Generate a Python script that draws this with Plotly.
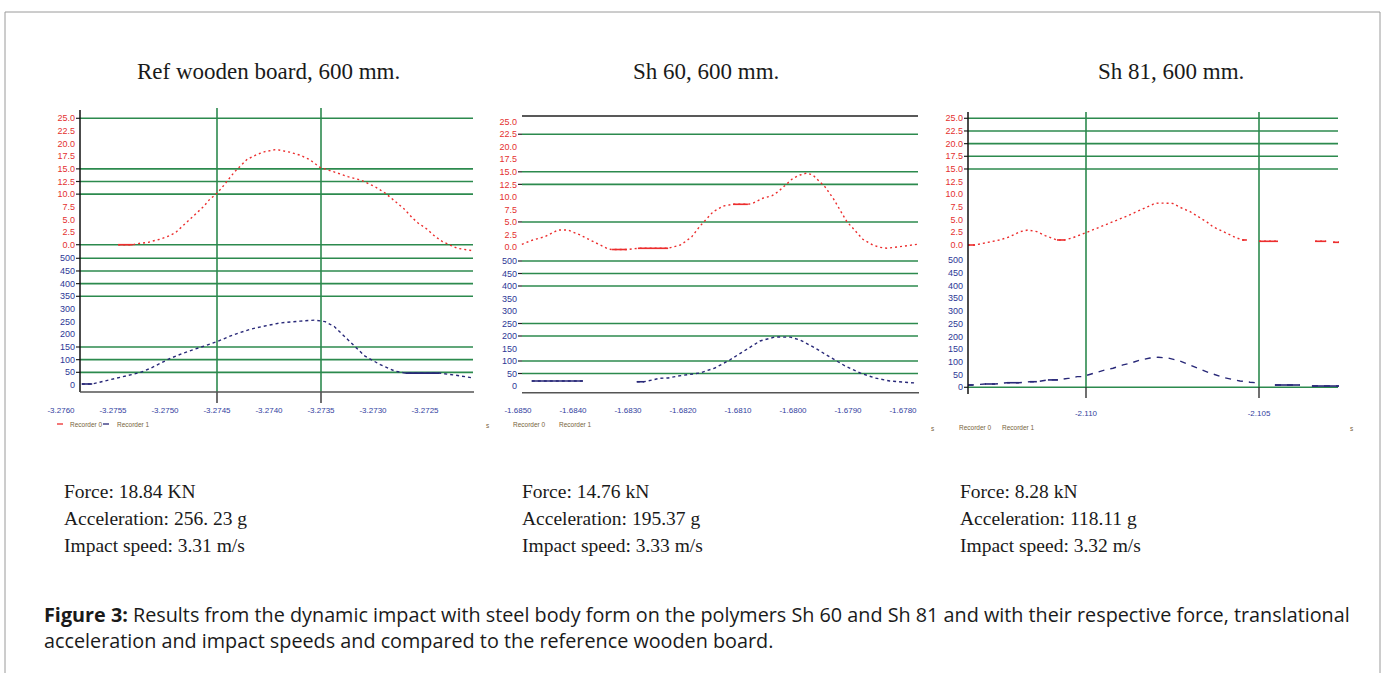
import plotly.graph_objects as go

W, H = 1385, 673

# ---------------- data ----------------
titles = ["Ref wooden board, 600 mm.", "Sh 60, 600 mm.", "Sh 81, 600 mm."]
info = [
    ["Force: 18.84 KN", "Acceleration: 256. 23 g", "Impact speed: 3.31 m/s"],
    ["Force: 14.76 kN", "Acceleration: 195.37 g", "Impact speed: 3.33 m/s"],
    ["Force: 8.28 kN", "Acceleration: 118.11 g", "Impact speed: 3.32 m/s"],
]
series_names = ["Recorder 0", "Recorder 1"]

force_ticks = [0, 2.5, 5, 7.5, 10, 12.5, 15, 17.5, 20, 22.5, 25]
force_ticktext = ["0.0", "2.5", "5.0", "7.5", "10.0", "12.5", "15.0", "17.5", "20.0", "22.5", "25.0"]
accel_ticks = [0, 50, 100, 150, 200, 250, 300, 350, 400, 450, 500]
accel_ticktext = ["0", "50", "100", "150", "200", "250", "300", "350", "400", "450", "500"]

# panel 1: Ref wooden board
x1_ticks = [-3.2760, -3.2755, -3.2750, -3.2745, -3.2740, -3.2735, -3.2730, -3.2725]
x1_ticktext = ["-3.2760", "-3.2755", "-3.2750", "-3.2745", "-3.2740", "-3.2735", "-3.2730", "-3.2725"]
t1_force = [-3.27545, -3.27531, -3.27524, -3.27516, -3.27512, -3.27505, -3.27498, -3.27490, -3.27483,
            -3.27476, -3.27463, -3.27457, -3.27450, -3.27444, -3.27433, -3.27421, -3.27411, -3.27404,
            -3.27393, -3.27380, -3.27370, -3.27361, -3.27351, -3.27338, -3.27324, -3.27312, -3.27305,
            -3.27298, -3.27288, -3.27284, -3.27278, -3.27270, -3.27262, -3.27257, -3.27248, -3.27240,
            -3.27233, -3.27219, -3.27204]
force1 = [0.0, 0.0, 0.28, 0.47, 0.73, 1.07, 1.58, 2.37, 3.7,
          5.08, 7.52, 8.98, 10.17, 11.6, 14.44, 16.89, 17.9, 18.4,
          18.84, 18.3, 17.7, 16.85, 15.3, 14.44, 13.45, 12.8, 12.14,
          11.47, 10.17, 9.5, 8.5, 7.06, 5.28, 4.35, 3.05, 1.58,
          0.59, -0.71, -1.19]
t1_accel = [-3.27580, -3.27570, -3.27565, -3.27558, -3.27550, -3.27541, -3.27534, -3.27524, -3.27514,
            -3.27505, -3.27495, -3.27483, -3.27469, -3.27457, -3.27450, -3.27435, -3.27418, -3.27404,
            -3.27389, -3.27370, -3.27356, -3.27346, -3.27337, -3.27327, -3.27317, -3.27308, -3.27293,
            -3.27279, -3.27269, -3.27236, -3.27221, -3.27204]
accel1 = [4, 4, 9, 16, 26, 33, 39, 49, 66,
          86, 105, 125, 145, 162, 171, 197, 220, 233,
          245, 252, 256.23, 250, 230, 190, 150, 115, 80,
          55, 47, 47, 39, 28]

# panel 2: Sh 60
x2_ticks = [-1.6850, -1.6840, -1.6830, -1.6820, -1.6810, -1.6800, -1.6790, -1.6780]
x2_ticktext = ["-1.6850", "-1.6840", "-1.6830", "-1.6820", "-1.6810", "-1.6800", "-1.6790", "-1.6780"]
t2_force = [-1.68493, -1.68473, -1.68451, -1.68427, -1.68409, -1.68387, -1.68369, -1.68351, -1.68336,
            -1.68329, -1.68302, -1.68282, -1.68227, -1.68211, -1.68205, -1.68196, -1.68184, -1.68169,
            -1.68156, -1.68145, -1.68127, -1.68109, -1.68082, -1.68073, -1.68055, -1.68038, -1.68027,
            -1.68011, -1.68000, -1.67987, -1.67975, -1.67964, -1.67951, -1.67942, -1.67927, -1.67915,
            -1.67902, -1.67891, -1.67873, -1.67855, -1.67842, -1.67829, -1.67805, -1.67787, -1.67773]
force2 = [0.54, 1.4, 2.06, 3.39, 3.39, 2.39, 1.4, 0.4, -0.4,
          -0.5, -0.5, -0.26, -0.26, 0.2, 0.4, 1.06, 2.06, 4.19,
          5.73, 7.05, 8.18, 8.52, 8.52, 8.72, 9.72, 10.24, 11.04,
          12.71, 13.71, 14.37, 14.76, 14.37, 13.03, 12.03, 9.72, 7.38,
          5.05, 3.73, 1.54, 0.4, -0.06, -0.26, 0.06, 0.26, 0.54]
t2_accel = [-1.68475, -1.68382, None, -1.68284, -1.68271, -1.68256, -1.68242, -1.68227, -1.68209,
            -1.68169, -1.68142, -1.68115, -1.68087, -1.68060, -1.68033, -1.68005, -1.67987, -1.67960,
            -1.67933, -1.67905, -1.67878, -1.67851, -1.67824, -1.67796, -1.67778]
accel2 = [20, 20, None, 17, 17, 24, 31, 32, 40,
          52, 72, 104, 144, 180, 196, 195.37, 184, 152,
          116, 80, 52, 32, 20, 14, 12]

# panel 3: Sh 81
x3_ticks = [-2.110, -2.105]
x3_ticktext = ["-2.110", "-2.105"]
t3_force = [-2.11341, -2.11321, -2.11298, -2.11272, -2.11249, -2.11220, -2.11191, -2.11168, -2.11142,
            -2.11118, -2.11084, -2.11061, -2.11038, -2.11000, -2.10960, -2.10922, -2.10882, -2.10844,
            -2.10815, -2.10801, -2.10786, -2.10757, -2.10749, -2.10728, -2.10699, -2.10676, -2.10650,
            -2.10633, -2.10604, -2.10569, -2.10549, -2.10535, None, -2.10500, -2.10445, None,
            -2.10338, -2.10306, None, -2.10286, -2.10266]
force3 = [0, 0, 0.33, 0.65, 0.99, 1.64, 2.63, 2.96, 2.63,
          1.84, 0.99, 0.99, 1.44, 2.43, 3.61, 4.6, 5.7, 6.9,
          7.7, 8.2, 8.28, 8.28, 8.2, 7.44, 6.57, 5.6, 4.5,
          3.6, 2.63, 1.52, 0.99, 0.99, None, 0.73, 0.73, None,
          0.73, 0.73, None, 0.53, 0.53]
t3_accel = [-2.11341, -2.11327, -2.11292, -2.11263, -2.11228, -2.11194, -2.11162, -2.11142, -2.11110,
            -2.11081, -2.11052, -2.11040, -2.11026, -2.11012, -2.11000, -2.10988, -2.10968, -2.10945,
            -2.10922, -2.10893, -2.10873, -2.10844, -2.10815, -2.10792, -2.10763, -2.10728, -2.10685,
            -2.10642, -2.10598, -2.10555, -2.10526, -2.10503, None, -2.10454, -2.10382, None,
            -2.10347, -2.10269]
accel3 = [9, 9, 13, 13, 18, 18, 22, 22, 29,
          29, 35, 35, 42, 42, 46, 52, 59, 68,
          75, 88, 94, 107, 115, 118.11, 115, 103, 80,
          56, 37, 25, 20, 17, None, 9, 9, None,
          5, 5]

# reference (grid) levels drawn in green
force_levels = [[25, 15, 12.5, 10, 0], [22.5, 15, 12.5, 5], [25, 22.5, 20, 17.5, 15]]
accel_levels = [[500, 450, 400, 350, 150, 100, 50], [500, 450, 400, 250, 200, 100, 50], [0]]
cursor_times = [[-3.2745, -3.2735], [], [-2.110, -2.105]]

caption_bold = "Figure 3:"
caption_1 = " Results from the dynamic impact with steel body form on the polymers Sh 60 and Sh 81 and with their respective force, translational"
caption_2 = "acceleration and impact speeds and compared to the reference wooden board."

# ---------------- layout calibration (pixels) ----------------
def fx(px):
    return px / W

def fy(py):
    return 1 - py / H

PANELS = [
    dict(xdom=(56, 473), tref=-3.2745, pxref=217, spx=104000, axis_px=80, right_px=473,
         f0=244.7, fk=5.056, a0=385.0, ak=0.2534, title_x=268, info_x=62, stand=12,
         leg=(68, 115, 424), unit=(488, 425), samples=True),
    dict(xdom=(500, 919), tref=-1.6850, pxref=518, spx=55000, axis_px=522, right_px=918,
         f0=247.0, fk=5.012, a0=386.0, ak=0.250, title_x=706, info_x=520, stand=12,
         leg=(511, 557, 424), unit=(933, 428), samples=False),
    dict(xdom=(945, 1339), tref=-2.110, pxref=1086, spx=34600, axis_px=968, right_px=1338,
         f0=245.0, fk=5.068, a0=387.3, ak=0.2546, title_x=1171, info_x=958, stand=15,
         leg=(957, 1000, 427), unit=(1352, 428), samples=False),
]
YT, YB = 106, 392

RED = "rgb(236,45,45)"
NAVY = "rgb(40,40,120)"
GREEN = "rgb(44,138,78)"
FORCE_LBL = "rgb(228,48,48)"
ACCEL_LBL = "rgb(45,55,150)"
XLBL = "rgb(50,65,160)"
LEGC = "rgb(120,100,60)"

data = [
    (t1_force, force1, t1_accel, accel1, x1_ticks, x1_ticktext),
    (t2_force, force2, t2_accel, accel2, x2_ticks, x2_ticktext),
    (t3_force, force3, t3_accel, accel3, x3_ticks, x3_ticktext),
]
# index ranges of flat stretches that the recorder drew as solid strokes
solid_force = [[(0, 1)], [(9, 10), (11, 12), (21, 22)], [(0, 1), (10, 11), (30, 31), (33, 34), (36, 37), (39, 40)]]
solid_accel = [[(0, 1), (28, 29)], [(0, 1), (3, 4)], [(0, 1), (2, 3), (4, 5), (6, 7), (8, 9), (33, 34), (36, 37)]]
accel_dash = ["3px,3px", "3px,3px", "6px,6px"]

fig = go.Figure()
shapes = []
annotations = []
layout = {}

for i, p in enumerate(PANELS):
    tf, fv, ta, av, xt, xtt = data[i]
    xa = "x" if i == 0 else f"x{i + 1}"
    yf = "y" if i == 0 else f"y{2 * i + 1}"
    ya = f"y{2 * i + 2}"
    xkey = "xaxis" if i == 0 else f"xaxis{i + 1}"
    yfkey = "yaxis" if i == 0 else f"yaxis{2 * i + 1}"
    yakey = f"yaxis{2 * i + 2}"

    x0 = p["tref"] + (p["xdom"][0] - p["pxref"]) / p["spx"]
    x1 = p["tref"] + (p["xdom"][1] - p["pxref"]) / p["spx"]
    layout[xkey] = dict(domain=[fx(p["xdom"][0]), fx(p["xdom"][1])], range=[x0, x1], anchor=yf,
                        tickvals=xt, ticktext=xtt, showline=False, showgrid=False, zeroline=False,
                        ticks="", ticklabelstandoff=p["stand"],
                        tickfont=dict(family="Liberation Sans", size=8, color=XLBL))
    ydom = [fy(YB), fy(YT)]
    layout[yfkey] = dict(domain=ydom, range=[-(YB - p["f0"]) / p["fk"], (p["f0"] - YT) / p["fk"]],
                         anchor="free", position=fx(p["axis_px"]), side="left",
                         tickvals=force_ticks, ticktext=force_ticktext, showgrid=False, zeroline=False,
                         showline=False, ticks="", ticklabelstandoff=5,
                         tickfont=dict(family="Liberation Sans", size=9, color=FORCE_LBL))
    layout[yakey] = dict(domain=ydom, range=[-(YB - p["a0"]) / p["ak"], (p["a0"] - YT) / p["ak"]],
                         anchor="free", position=fx(p["axis_px"]), side="left", overlaying=yf,
                         tickvals=accel_ticks, ticktext=accel_ticktext, showgrid=False, zeroline=False,
                         showline=False, ticks="", ticklabelstandoff=5,
                         tickfont=dict(family="Liberation Sans", size=9, color=ACCEL_LBL))

    # green reference levels + small tick marks
    for lv in force_levels[i]:
        shapes.append(dict(type="line", xref="paper", yref=yf, x0=fx(p["axis_px"]), x1=fx(p["right_px"]),
                           y0=lv, y1=lv, line=dict(color=GREEN, width=1.6), layer="below"))
        shapes.append(dict(type="line", xref="paper", yref=yf, x0=fx(p["axis_px"] - 4), x1=fx(p["axis_px"]),
                           y0=lv, y1=lv, line=dict(color="#222", width=1.2)))
    for lv in accel_levels[i]:
        shapes.append(dict(type="line", xref="paper", yref=ya, x0=fx(p["axis_px"]), x1=fx(p["right_px"]),
                           y0=lv, y1=lv, line=dict(color=GREEN, width=1.6), layer="below"))
        shapes.append(dict(type="line", xref="paper", yref=ya, x0=fx(p["axis_px"] - 4), x1=fx(p["axis_px"]),
                           y0=lv, y1=lv, line=dict(color="#222", width=1.2)))

    # traces (dotted), and solid flat stretches
    fig.add_trace(go.Scatter(x=tf, y=fv, xaxis=xa, yaxis=yf, mode="lines", name=series_names[0],
                             showlegend=False, connectgaps=False,
                             line=dict(color=RED, width=1.4, dash="2px,3px")))
    for a, b in solid_force[i]:
        fig.add_trace(go.Scatter(x=tf[a:b + 1], y=fv[a:b + 1], xaxis=xa, yaxis=yf, mode="lines",
                                 showlegend=False, line=dict(color=RED, width=1.6)))
    fig.add_trace(go.Scatter(x=ta, y=av, xaxis=xa, yaxis=ya, mode="lines", name=series_names[1],
                             showlegend=False, connectgaps=False,
                             line=dict(color=NAVY, width=1.4, dash=accel_dash[i])))
    for a, b in solid_accel[i]:
        fig.add_trace(go.Scatter(x=ta[a:b + 1], y=av[a:b + 1], xaxis=xa, yaxis=ya, mode="lines",
                                 showlegend=False, line=dict(color=NAVY, width=1.6)))

    # titles and info text
    annotations.append(dict(text=titles[i], x=fx(p["title_x"]), y=fy(72), xref="paper", yref="paper",
                            showarrow=False, xanchor="center", yanchor="middle",
                            font=dict(family="Liberation Serif", size=23, color="#1a1a1a")))
    for k, line in enumerate(info[i]):
        annotations.append(dict(text=line, x=fx(p["info_x"]), y=fy(491 + 27 * k), xref="paper", yref="paper",
                                showarrow=False, xanchor="left", yanchor="middle",
                                font=dict(family="Liberation Serif", size=19.5, color="#1a1a1a")))
    # legend text
    lx0, lx1, ly = p["leg"]
    for nm, lx in zip(series_names, (lx0, lx1)):
        annotations.append(dict(text=nm, x=fx(lx), y=fy(ly), xref="paper", yref="paper", showarrow=False,
                                xanchor="left", yanchor="middle",
                                font=dict(family="Liberation Sans", size=6.5, color=LEGC)))
    if p["samples"]:
        shapes.append(dict(type="line", xref="paper", yref="paper", x0=fx(lx0 - 11), x1=fx(lx0 - 5),
                           y0=fy(ly), y1=fy(ly), line=dict(color=RED, width=1.3)))
        shapes.append(dict(type="line", xref="paper", yref="paper", x0=fx(lx1 - 12), x1=fx(lx1 - 6),
                           y0=fy(ly), y1=fy(ly), line=dict(color=NAVY, width=1.3)))
    ux, uy = p["unit"]
    annotations.append(dict(text="s", x=fx(ux), y=fy(uy), xref="paper", yref="paper", showarrow=False,
                            xanchor="center", yanchor="middle",
                            font=dict(family="Liberation Sans", size=6.5, color=LEGC)))

    # cursor lines (vertical green) with black tick below
    for tc in cursor_times[i]:
        top = 108 if i == 0 else 112
        bot = 392 if i == 0 else 387
        shapes.append(dict(type="line", xref=xa, yref="paper", x0=tc, x1=tc, y0=fy(bot), y1=fy(top),
                           line=dict(color=GREEN, width=1.6), layer="below"))
        shapes.append(dict(type="line", xref=xa, yref="paper", x0=tc, x1=tc, y0=fy(bot + 11), y1=fy(bot),
                           line=dict(color="#333", width=1.4)))

# axis lines / frames
shapes += [
    dict(type="line", xref="paper", yref="paper", x0=fx(80), x1=fx(80), y0=fy(392), y1=fy(110),
         line=dict(color="#111", width=1.5)),
    dict(type="line", xref="paper", yref="paper", x0=fx(80), x1=fx(474), y0=fy(392), y1=fy(392),
         line=dict(color="#555", width=1.5)),
    dict(type="line", xref="paper", yref="paper", x0=fx(522), x1=fx(918), y0=fy(116), y1=fy(116),
         line=dict(color="#222", width=1.3)),
    dict(type="line", xref="paper", yref="paper", x0=fx(522), x1=fx(919), y0=fy(392.7), y1=fy(392.7),
         line=dict(color="#555", width=1.5)),
    dict(type="line", xref="paper", yref="paper", x0=fx(968), x1=fx(968), y0=fy(394), y1=fy(112),
         line=dict(color="#111", width=1.5)),
    dict(type="rect", xref="paper", yref="paper", x0=fx(5), x1=fx(1380), y0=fy(690), y1=fy(12),
         line=dict(color="#9a9a9a", width=1)),
]

annotations.append(dict(text=f"<b>{caption_bold}</b>{caption_1}", x=fx(42), y=fy(614), xref="paper",
                        yref="paper", showarrow=False, xanchor="left", yanchor="middle",
                        font=dict(family="Open Sans", size=19.8, color="#1a1a1a")))
annotations.append(dict(text=caption_2, x=fx(42), y=fy(640), xref="paper", yref="paper", showarrow=False,
                        xanchor="left", yanchor="middle",
                        font=dict(family="Open Sans", size=19.8, color="#1a1a1a")))

fig.update_layout(width=W, height=H, margin=dict(l=0, r=0, t=0, b=0, autoexpand=False),
                  paper_bgcolor="white", plot_bgcolor="rgba(0,0,0,0)", showlegend=False,
                  shapes=shapes, annotations=annotations, **layout)

fig.write_html("out.html", config={"displayModeBar": False},
               post_script="document.body.style.margin='0px';document.body.style.overflow='hidden';")
